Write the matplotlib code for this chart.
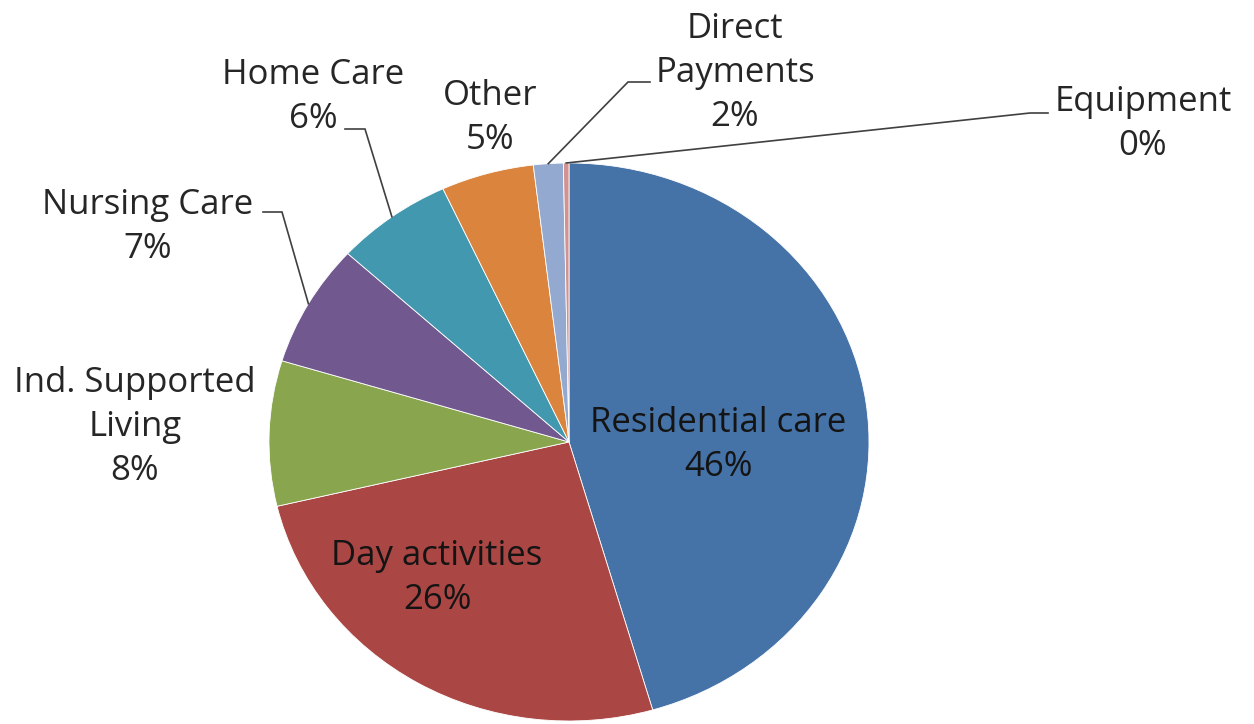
import numpy as np
import matplotlib.pyplot as plt

# ------------------------
# Data
# ------------------------
CATEGORIES = ["Residential care", "Day activities", "Ind. Supported\nLiving",
              "Nursing Care", "Home Care", "Other", "Direct\nPayments", "Equipment"]
SHARES = [45.5, 25.8, 8.4, 7.1, 6.3, 5.0, 1.6, 0.3]
COLORS = ["#4572A7", "#AA4643", "#89A54E", "#71588F",
          "#4198AF", "#DB843D", "#93A9CF", "#D19392"]

# ------------------------
# Layout (pixel positions of the reference image)
# ------------------------
W, H = 1254, 724
CX, CY = 569, 442       # pie centre in px
RX, RY = 300, 279       # pie radii in px (picture is slightly stretched)

# label centre in px, and for outside labels the leader start / elbow in px
LABEL_POS = [(718, 445), (437, 578), (135, 427), (148, 227),
             (313, 97), (490, 118), (735, 73), (1143, 124)]
LEADERS = {3: ((263, 212), (282, 212)),
           4: ((345, 129), (365, 129)),
           6: ((650, 82), (628, 82)),
           7: ((1048, 113), (1030, 113))}
INSIDE = {0, 1}


def px2data(px, py):
    return (px - CX) / RX, (CY - py) / RY


fig = plt.figure(figsize=(W / 100, H / 100), dpi=100)
ax = fig.add_axes([0, 0, 1, 1])

wedges, _ = ax.pie(SHARES, colors=COLORS, startangle=90, counterclock=False,
                   radius=1, center=(0, 0),
                   wedgeprops=dict(edgecolor="white", linewidth=0.6))
ax.set_aspect("auto")
ax.set_xlim(-CX / RX, (W - CX) / RX)
ax.set_ylim(-(H - CY) / RY, CY / RY)
ax.axis("off")

total = sum(SHARES)
for i, (name, share) in enumerate(zip(CATEGORIES, SHARES)):
    pct = f"{round(share / total * 100):.0f}%"
    x, y = px2data(*LABEL_POS[i])
    color = "#141414" if i in INSIDE else "#262626"
    ax.text(x, y, f"{name}\n{pct}", ha="center", va="center",
            fontsize=25, family="Open Sans", color=color, linespacing=1.4)

    if i in LEADERS:
        w = wedges[i]
        mid = np.deg2rad((w.theta1 + w.theta2) / 2)
        edge = (np.cos(mid), np.sin(mid))
        p0 = px2data(*LEADERS[i][0])
        p1 = px2data(*LEADERS[i][1])
        ax.plot([p0[0], p1[0], edge[0]], [p0[1], p1[1], edge[1]],
                color="#404040", lw=1.2, solid_joinstyle="miter")

fig.savefig("out.png", dpi=100)
